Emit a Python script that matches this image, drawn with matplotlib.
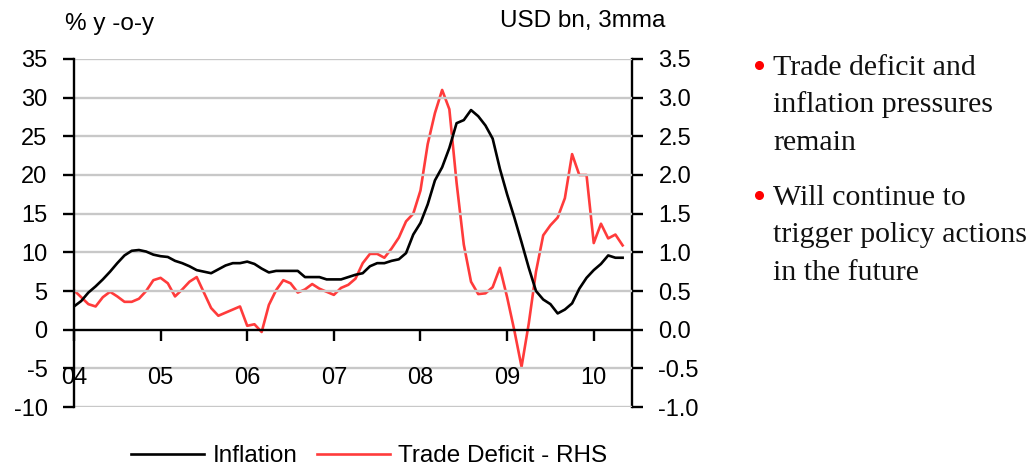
import numpy as np
import matplotlib
matplotlib.use("Agg")
import matplotlib.pyplot as plt
from matplotlib.lines import Line2D

# monthly data, Jan 2004 .. May 2010
months = np.arange(77)
inflation = [3.0, 3.7, 4.8, 5.6, 6.5, 7.5, 8.6, 9.6, 10.2, 10.3, 10.1, 9.7,
             9.5, 9.4, 8.9, 8.6, 8.2, 7.7, 7.5, 7.3, 7.8, 8.3, 8.6, 8.6,
             8.8, 8.5, 7.9, 7.4, 7.6, 7.6, 7.6, 7.6, 6.8, 6.8, 6.8, 6.5,
             6.5, 6.5, 6.8, 7.1, 7.3, 8.2, 8.6, 8.6, 8.9, 9.1, 9.9, 12.3,
             13.8, 16.2, 19.3, 21.0, 23.5, 26.7, 27.1, 28.4, 27.6, 26.4, 24.7, 20.8,
             17.5, 14.5, 11.3, 8.0, 5.0, 3.9, 3.3, 2.1, 2.6, 3.4, 5.3, 6.7,
             7.7, 8.5, 9.6, 9.3, 9.3]
trade_deficit = [0.51, 0.42, 0.33, 0.30, 0.42, 0.49, 0.43, 0.36, 0.36, 0.40, 0.50, 0.64,
                 0.67, 0.60, 0.43, 0.52, 0.62, 0.68, 0.48, 0.28, 0.18, 0.22, 0.26, 0.30,
                 0.05, 0.07, -0.03, 0.32, 0.51, 0.64, 0.60, 0.48, 0.52, 0.59, 0.53, 0.49,
                 0.45, 0.54, 0.58, 0.66, 0.86, 0.98, 0.98, 0.93, 1.05, 1.19, 1.40, 1.50,
                 1.80, 2.40, 2.80, 3.10, 2.85, 1.90, 1.10, 0.62, 0.46, 0.47, 0.55, 0.80,
                 0.42, -0.01, -0.48, 0.08, 0.75, 1.22, 1.35, 1.45, 1.70, 2.27, 2.00, 2.00,
                 1.12, 1.37, 1.18, 1.23, 1.09]
year_labels = ["04", "05", "06", "07", "08", "09", "10"]
left_ticks = [-10, -5, 0, 5, 10, 15, 20, 25, 30, 35]
right_ticks = [-1.0, -0.5, 0.0, 0.5, 1.0, 1.5, 2.0, 2.5, 3.0, 3.5]
bullets = [["Trade deficit and", "inflation pressures", "remain"],
           ["Will continue to", "trigger policy actions", "in the future"]]

sans = ["Liberation Sans", "DejaVu Sans"]
serif = ["Liberation Serif", "DejaVu Serif"]
red = "#ff3b3b"
W, H = 1030, 466

fig = plt.figure(figsize=(10.3, 4.66), dpi=100)
ax = fig.add_axes([0.0718, 0.1266, 0.5418, 0.7468])
ax2 = ax.twinx()

ax.set_ylim(-10, 35)
ax2.set_ylim(-1.0, 3.5)
ax.set_xlim(0, 77.3)

for y in left_ticks:
    if y != 0:
        ax.axhline(y, color="#c8c8c8", lw=1.7, zorder=0)

ax.plot(months, inflation, color="black", lw=1.9, zorder=3)
ax2.plot(months, trade_deficit, color=red, lw=1.9, zorder=2)
ax.set_zorder(ax2.get_zorder() + 1)
ax.patch.set_visible(False)

ax.spines["top"].set_visible(False)
ax2.spines["top"].set_visible(False)
ax.spines["right"].set_visible(False)
ax.spines["bottom"].set_position(("data", 0))
ax2.spines["bottom"].set_visible(False)
for s in ["left", "bottom"]:
    ax.spines[s].set_linewidth(1.7)
ax2.spines["right"].set_linewidth(1.7)
ax2.spines["left"].set_visible(False)

ax.set_yticks(left_ticks)
ax.set_yticklabels([str(t) for t in left_ticks], family=sans, fontsize=17)
ax2.set_yticks(right_ticks)
ax2.set_yticklabels(["%.1f" % t for t in right_ticks], family=sans, fontsize=17)
ax.tick_params(axis="y", direction="out", length=8, width=1.7, pad=11)
ax2.tick_params(axis="y", direction="out", length=8, width=1.7, pad=11)

ax.set_xticks([12 * i for i in range(len(year_labels))])
ax.set_xticklabels(year_labels, family=sans, fontsize=17)
ax.tick_params(axis="x", direction="out", length=8, width=1.7, pad=19)

fig.text(65 / W, 1 - 24 / H, "% y -o-y", family=sans, fontsize=17.5, va="center", ha="left")
fig.text(665 / W, 1 - 21 / H, "USD bn, 3mma", family=sans, fontsize=17.5, va="center", ha="right")

handles = [Line2D([], [], color="black", lw=1.9), Line2D([], [], color=red, lw=1.9)]
fig.legend(handles, ["Inflation", "Trade Deficit - RHS"], loc="center",
           bbox_to_anchor=(369 / W, 1 - 456 / H), ncol=2, frameon=False,
           prop={"family": sans, "size": 17.5}, handlelength=3.0,
           handletextpad=0.35, columnspacing=0.8)

first_baselines = [75, 205]
for base, lines in zip(first_baselines, bullets):
    fig.add_artist(Line2D([759 / W], [1 - (base - 10) / H], marker="o", ms=5.5,
                          color="red", ls="none", transform=fig.transFigure))
    for i, line in enumerate(lines):
        fig.text(773 / W, 1 - (base + 37.5 * i) / H, line, family=serif,
                 fontsize=21.5, va="baseline", ha="left", color="#111111")

fig.savefig("out.png", dpi=100)
